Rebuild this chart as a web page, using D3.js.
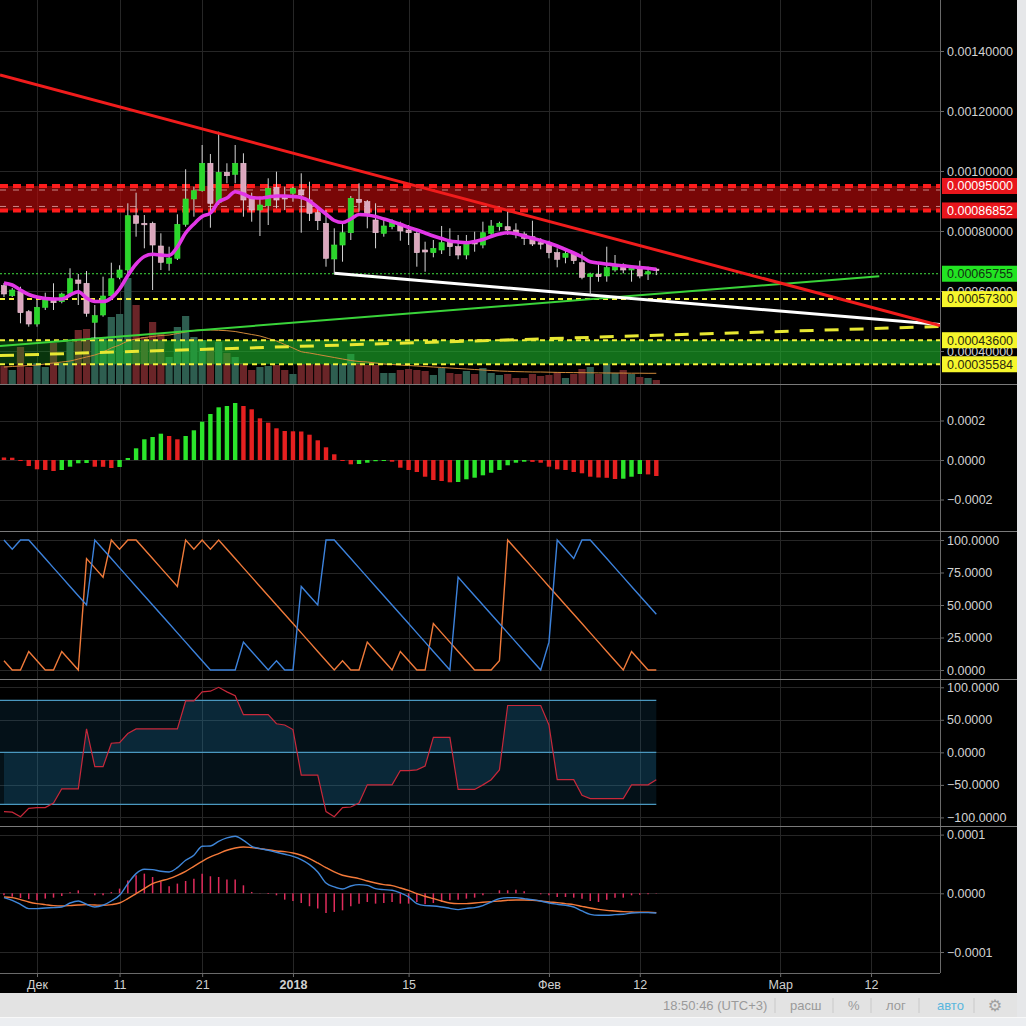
<!DOCTYPE html>
<html>
<head>
<meta charset="utf-8">
<script src="https://cdnjs.cloudflare.com/ajax/libs/d3/7.8.5/d3.min.js"></script>
<style>
  body { margin: 0; background: #000; }
  svg { display: block; font-family: "Liberation Sans", Arial, sans-serif; }
</style>
</head>
<body>
<div id="chart"></div>
<script>
// ---- data (daily bars, Nov 27 2017 .. Feb 14 2018) ----
// prices are in units of 1e-5
const open  = [61.77,58.43,59.77,53.1,49.0,54.57,57.57,56.43,59.23,63.67,62.57,49.57,52.0,58.43,64.57,67.0,85.1,82.57,82.57,75.0,69.23,70.9,82.23,90.67,93.43,102.57,89.43,99.57,98.9,102.57,90.9,87.0,88.43,94.57,91.23,92.57,93.67,90.33,86.1,82.57,70.67,75.33,79.43,90.57,89.77,83.67,79.23,81.43,82.0,80.33,79.23,73.67,72.77,73.67,76.43,74.77,72.0,76.67,75.33,79.23,81.43,81.43,80.33,79.0,78.1,76.1,75.67,72.77,71.23,72.57,69.43,64.77,65.57,65.0,67.0,68.67,67.0,67.9,65.67,67.3];
const high  = [62.67,61.0,61.43,53.67,57.0,59.43,62.57,59.43,67.57,65.67,66.67,55.33,64.77,69.43,68.57,89.23,92.77,85.33,83.1,79.23,74.77,85.57,100.57,94.77,108.67,105.67,113.1,102.57,108.67,105.9,92.77,91.43,97.57,99.77,94.77,94.77,99.23,96.43,87.57,87.0,80.9,82.57,91.67,95.9,90.33,89.23,83.67,83.9,83.1,82.0,80.33,76.43,77.0,81.67,80.9,78.67,78.67,79.77,83.1,83.67,83.1,87.23,82.57,79.77,83.43,77.57,76.77,74.23,73.67,73.1,73.1,66.1,68.9,74.77,72.0,69.23,68.67,70.1,68.1,67.6];
const low   = [58.0,58.0,49.23,48.1,48.1,53.67,53.67,55.9,58.1,55.33,51.43,44.23,51.43,57.0,63.9,64.77,78.1,74.23,60.33,67.0,66.77,70.33,81.43,84.77,93.1,81.1,88.67,95.9,95.9,84.77,83.1,78.33,82.0,87.57,87.0,89.77,79.43,83.33,80.33,68.1,65.9,69.77,77.0,86.43,80.9,74.23,78.1,80.57,76.77,75.33,68.1,66.43,71.23,72.33,71.67,70.57,70.57,73.1,74.23,78.33,80.1,78.67,77.57,75.33,75.0,73.9,70.9,67.9,69.23,69.0,63.9,58.67,63.1,63.1,66.43,65.9,63.1,64.23,63.67,65.3];
const close = [59.0,60.33,52.77,49.0,54.57,57.0,56.1,59.0,64.1,62.57,52.57,51.77,58.33,64.1,67.0,85.1,82.57,82.1,75.33,69.57,71.0,82.23,90.67,93.43,102.57,89.23,99.57,98.43,102.57,90.33,87.0,88.67,94.23,90.33,90.67,94.23,92.0,85.9,83.43,70.9,75.33,79.43,90.9,89.57,85.9,79.43,81.67,82.9,80.0,79.43,72.77,73.0,74.23,76.1,74.77,72.0,75.67,75.67,79.43,81.67,82.57,80.33,79.0,77.57,75.67,75.67,72.77,70.57,72.57,70.1,64.57,65.67,64.77,67.77,68.67,67.0,68.1,65.0,66.43,66.8];
const maLine = [62.67,62.0,60.33,58.83,58.0,57.5,57.33,57.33,58.67,59.77,57.67,56.5,56.5,57.67,60.67,65.17,69.0,71.5,72.23,72.0,71.83,74.67,79.33,82.33,84.83,86.0,89.67,91.0,93.1,92.33,91.17,91.0,91.33,91.67,91.67,91.5,91.17,90.0,87.83,85.67,83.5,82.83,84.0,85.5,85.33,84.83,84.0,83.17,82.23,81.17,80.33,79.33,78.33,77.5,76.67,76.33,76.1,76.5,77.17,78.17,79.0,79.43,79.07,78.33,77.6,76.83,76.0,75.0,73.83,72.67,71.33,69.77,69.33,69.0,68.67,68.4,68.1,67.83,67.57,67.23];
// volume in relative units
const volume = [18,14,37,17,21,17,41,21,42,54,55,47,47,67,70,106,79,47,62,51,27,57,68,47,44,37,42,31,27,21,14,17,18,19,14,10,20,20,20,20,20,20,30,21,19,19,11,11,14,15,14,13,9,16,11,10,13,10,16,11,9,10,6,6,10,8,9,12,6,10,15,17,10,20,11,14,10,7,6,4];
const volumeMa = [17,17.5,18,18.5,19,20,21,22,23,25,27,29,32,36,39,43,45,46.5,47.5,48.5,49,50.5,52,53.5,54,54,53.7,53.3,52.5,51,49.5,48,45.5,43,39.5,36,32.3,31,29.5,28,26.5,25,23.5,22.5,22,21,20,19.5,19,18.5,18,17.5,17,16.5,16,15.5,15,14.5,14,13.5,13,12.7,12.4,12.2,12,12,11.8,11.6,11.5,11.4,11.3,11.2,11.1,11,11,10.9,10.8,10.8,10.7,10.7];
// oscillator histogram, units of 1e-6
const osc = [12.7,11.6,-5.1,-30.4,-47.1,-50.6,-55.7,-50.6,-33.9,-16.7,-15.2,-33.9,-34.4,-40.5,-35.4,10.1,59.2,104.8,116.4,133.2,121.5,104.8,121.5,150.4,193.9,232.9,266.8,273.4,288.6,273.4,256.7,211.1,188.8,160.5,146.8,145.3,144.3,128.1,99.7,64.3,28.9,-2.5,-21.8,-20.3,-13.7,-6.1,-5.1,-8.6,-39.0,-50.6,-60.8,-84.6,-101.3,-106.3,-112.9,-111.4,-97.7,-89.6,-77.5,-64.3,-50.6,-26.8,-13.7,-8.6,-9.6,-13.7,-33.9,-47.1,-50.6,-60.8,-67.3,-84.6,-88.6,-90.1,-96.2,-94.7,-84.6,-70.9,-72.9,-81.0];
// Aroon
const aroonDown = [100,92.86,100,100,92.86,85.71,78.57,71.43,64.29,57.14,50,100,92.86,85.71,78.57,71.43,64.29,57.14,50,42.86,35.71,28.57,21.43,14.29,7.14,0,0,0,0,21.43,14.29,7.14,0,7.14,0,0,64.29,57.14,50,100,100,92.86,85.71,78.57,71.43,64.29,57.14,50,42.86,35.71,28.57,21.43,14.29,7.14,0,71.43,64.29,57.14,50,42.86,35.71,28.57,21.43,14.29,7.14,0,21.43,100,92.86,85.71,100,100,92.86,85.71,78.57,71.43,64.29,57.14,50,42.86];
const aroonUp = [7.14,0,0,14.29,7.14,0,0,14.29,7.14,0,85.71,78.57,71.43,100,92.86,100,100,92.86,85.71,78.57,71.43,64.29,100,92.86,100,92.86,100,92.86,85.71,78.57,71.43,64.29,57.14,50,42.86,35.71,28.57,21.43,14.29,7.14,0,7.14,0,0,21.43,14.29,7.14,0,14.29,7.14,0,0,35.71,28.57,21.43,14.29,7.14,0,0,0,7.14,100,92.86,85.71,78.57,71.43,64.29,57.14,50,42.86,35.71,28.57,21.43,14.29,7.14,0,14.29,7.14,0,0];
// CCI-like oscillator
const cci = [-91,-92,-99,-86,-85,-85,-78,-56,-56,-56,36,-22,-22,14,15,29,36,36,36,36,36,36,79,79,93,94,100,93,87,58,58,58,58,44,42,35,-35,-35,-35,-91,-99,-85,-84,-78,-50,-50,-50,-50,-28,-28,-27,-21,23,23,23,-57,-57,-57,-50,-42,-27,72,72,72,72,72,42,-42,-42,-42,-66,-71,-71,-71,-71,-71,-50,-50,-50,-42];
const cciBands = [80, 0, -80];
// MACD, units of 1e-6
const macd = [-7.4,-11.9,-18.7,-26.1,-26.1,-25.0,-24.4,-23.3,-16.5,-13.1,-18.7,-23.3,-20.4,-13.1,-3.4,16.5,33.5,40.9,40.3,37.5,36.4,43.7,56.2,64.8,80.1,80.7,88.6,94.3,97.1,90.3,80.1,76.1,73.3,69.9,66.5,63.0,57.4,48.8,36.4,17.6,10.8,7.4,12.5,14.8,13.6,8.0,6.2,5.1,0.6,-6.2,-17.6,-21.0,-21.6,-23.3,-25.6,-27.8,-25.6,-24.4,-21.0,-14.8,-9.1,-7.4,-7.4,-9.1,-10.8,-13.1,-16.5,-18.7,-20.4,-23.3,-30.1,-35.8,-37.5,-37.5,-36.4,-35.8,-33.5,-32.9,-32.9,-33.5];
const signal = [-6.2,-7.4,-10.8,-14.8,-17.6,-19.3,-21.0,-21.6,-21.0,-19.9,-19.3,-19.9,-20.4,-19.3,-16.5,-9.1,-0.6,8.0,16.5,21.0,25.0,30.7,37.5,46.0,54.5,61.9,67.6,73.3,77.2,79.0,77.8,76.1,74.4,72.1,71.0,68.7,64.8,59.1,51.7,43.7,36.4,30.7,27.8,25.0,21.0,17.6,14.8,13.1,9.1,5.1,-0.6,-5.1,-9.1,-13.1,-16.5,-17.6,-17.6,-16.5,-15.3,-14.2,-13.1,-11.9,-11.4,-11.4,-11.9,-13.1,-14.8,-15.9,-17.6,-19.3,-22.2,-25.0,-27.3,-29.0,-30.1,-31.2,-31.8,-32.4,-32.4,-32.9];
const macdHist = [-3.4,-6,-8,-10,-12,-9,-7.4,-4.5,2,5,0,-3.4,-3.4,2,8,22,30.7,33.5,27.8,19.3,12,16.5,21,25,33.5,29,27.8,23.3,23.3,13.6,2.3,0.6,-1.1,-3.4,-10.8,-13,-16.5,-22,-26,-33.5,-31.8,-29,-22,-17.6,-14.8,-17.6,-16.5,-14.8,-17.6,-17.6,-14.8,-18.7,-16.5,-14.8,-11.9,-10.8,-9.1,-7.4,-3.4,0.6,5.1,5.1,6.2,3.4,0,-1.7,-3.4,-6.2,-6.2,-7.4,-9.1,-13.1,-14.8,-10.8,-7.4,-7.4,-3.4,-2.3,-1.7,-0.6];

// drawings on the price pane
const redZone = [0.00095, 0.00086852];
const greenZone = [0.000436, 0.00035584];
const yellowLevel = 0.000573;
const lastPrice = 0.00065755;
const redTrend = [[Date.UTC(2017, 11, 23), 0.0011257], [Date.UTC(2018, 2, 1), 0.0006267]];
const whiteTrend = [[Date.UTC(2018, 0, 6), 0.000659], [Date.UTC(2018, 1, 6), 0.0005867]];
const greenTrend = [[Date.UTC(2017, 10, 27), 0.0004177], [Date.UTC(2018, 2, 13), 0.0006493]];
const yellowTrend = [[Date.UTC(2017, 10, 27), 0.000385], [Date.UTC(2018, 2, 20), 0.0004813]];
const greenZoneBrightFrom = Date.UTC(2017, 11, 8);

// axis ticks
const timeTicks = [Date.UTC(2017,11,1), Date.UTC(2017,11,11), Date.UTC(2017,11,21), Date.UTC(2018,0,1), Date.UTC(2018,0,15), Date.UTC(2018,1,1), Date.UTC(2018,1,12), Date.UTC(2018,2,1), Date.UTC(2018,2,12)];
const timeLabels = ["Дек", "11", "21", "2018", "15", "Фев", "12", "Мар", "12"];
const priceTicks = [0.0014, 0.0012, 0.001, 0.0008, 0.0006, 0.0004];
const oscTicks = [0.0002, 0, -0.0002];
const aroonTicks = [100, 75, 50, 25, 0];
const cciTicks = [100, 50, 0, -50, -100];
const macdTicks = [0.0001, 0, -0.0001];
const toolbarItems = ["расш", "%", "лог", "авто"];

// ---- layout ----
const W = 1026, H = 1026, plotW = 940, axisBottom = 973;
const panes = [
  {top: 0, bottom: 384},
  {top: 384, bottom: 531},
  {top: 531, bottom: 679},
  {top: 679, bottom: 826},
  {top: 826, bottom: 973}
];

const days = d3.utcDay.range(new Date(Date.UTC(2017, 10, 27)), new Date(Date.UTC(2018, 1, 15)));
const bars = days.map((d, i) => ({
  date: d, o: open[i] * 1e-5, h: high[i] * 1e-5, l: low[i] * 1e-5, c: close[i] * 1e-5,
  ma: maLine[i] * 1e-5, v: volume[i], vma: volumeMa[i], osc: osc[i] * 1e-6,
  up: aroonUp[i], down: aroonDown[i], cci: cci[i],
  macd: macd[i] * 1e-6, sig: signal[i] * 1e-6, hist: macdHist[i] * 1e-6
}));

const x = d3.scaleUtc()
  .domain([new Date(Date.UTC(2017, 11, 1)), new Date(Date.UTC(2018, 2, 12))])
  .range([37, 871]);
const yMain = d3.scaleLinear().domain([0.0004, 0.0008]).range([351, 231]);
const yVol = d3.scaleLinear().domain([0, 100]).range([384, 284]);
const yOsc = d3.scaleLinear().domain([-0.0002, 0.0002]).range([499.5, 420.5]);
const yAroon = d3.scaleLinear().domain([0, 100]).range([670, 540]);
const yCci = d3.scaleLinear().domain([-100, 100]).range([817.4, 687.3]);
const yMacd = d3.scaleLinear().domain([-0.0001, 0.0001]).range([952, 834.6]);

const svg = d3.select("#chart").append("svg")
  .attr("width", W).attr("height", H);

svg.append("rect").attr("width", W).attr("height", H).attr("fill", "#000");

const defs = svg.append("defs");
panes.forEach((p, i) => {
  defs.append("clipPath").attr("id", "clip" + i)
    .append("rect").attr("x", 0).attr("y", p.top).attr("width", plotW).attr("height", p.bottom - p.top);
});

//grid
const grid = svg.append("g").attr("stroke", "#262626").attr("stroke-width", 1);
grid.selectAll(".vgrid").data(timeTicks).join("line")
  .attr("x1", d => Math.round(x(d)) + 0.5).attr("x2", d => Math.round(x(d)) + 0.5)
  .attr("y1", 0).attr("y2", axisBottom);
[[yMain, priceTicks], [yOsc, oscTicks], [yAroon, aroonTicks], [yCci, cciTicks], [yMacd, macdTicks]]
  .forEach(([s, ticks]) => {
    grid.append("g").selectAll("line").data(ticks).join("line")
      .attr("x1", 0).attr("x2", plotW)
      .attr("y1", d => Math.round(s(d)) + 0.5).attr("y2", d => Math.round(s(d)) + 0.5);
  });

// ---------- price pane ----------
const main = svg.append("g").attr("clip-path", "url(#clip0)");

//red resistance zone
main.append("rect")
  .attr("x", 0).attr("width", plotW)
  .attr("y", yMain(redZone[0])).attr("height", yMain(redZone[1]) - yMain(redZone[0]))
  .attr("fill", "#b80a0a").attr("opacity", 0.66);

//volume
main.append("g").selectAll("rect").data(bars).join("rect")
  .attr("x", d => x(d.date) - 3.6).attr("width", 7.2)
  .attr("y", d => yVol(d.v)).attr("height", d => yVol(0) - yVol(d.v))
  .attr("fill", d => d.c >= d.o ? "#2e5e50" : "#6a2528");

//green support zone
main.append("rect")
  .attr("x", 0).attr("width", plotW)
  .attr("y", yMain(greenZone[0])).attr("height", yMain(greenZone[1]) - yMain(greenZone[0]))
  .attr("fill", "#1fb02c").attr("opacity", 0.3);
main.append("rect")
  .attr("x", x(greenZoneBrightFrom)).attr("width", plotW - x(greenZoneBrightFrom))
  .attr("y", yMain(greenZone[0])).attr("height", yMain(greenZone[1]) - yMain(greenZone[0]))
  .attr("fill", "#22c030").attr("opacity", 0.42);

main.append("path")
  .datum(bars)
  .attr("d", d3.line().x(d => x(d.date)).y(d => yVol(d.vma)).curve(d3.curveMonotoneX))
  .attr("fill", "none").attr("stroke", "#d08a3a").attr("stroke-width", 1);

//zone borders
redZone.forEach((v, i) => {
  const yy = yMain(v);
  main.append("line").attr("x1", 0).attr("x2", plotW).attr("y1", yy).attr("y2", yy)
    .attr("stroke", "#ff1c1c").attr("stroke-width", 4).attr("stroke-dasharray", "8 5");
  main.append("line").attr("x1", 0).attr("x2", plotW)
    .attr("y1", yy + (i === 0 ? 4 : -4)).attr("y2", yy + (i === 0 ? 4 : -4))
    .attr("stroke", "#f0c0c0").attr("stroke-width", 1).attr("stroke-dasharray", "6 7").attr("opacity", 0.7);
});
[yellowLevel, ...greenZone].forEach(v => {
  main.append("line").attr("x1", 0).attr("x2", plotW).attr("y1", yMain(v)).attr("y2", yMain(v))
    .attr("stroke", "#f2f23a").attr("stroke-width", 2).attr("stroke-dasharray", "5 4");
});
main.append("line").attr("x1", 0).attr("x2", plotW).attr("y1", yMain(lastPrice)).attr("y2", yMain(lastPrice))
  .attr("stroke", "#40e040").attr("stroke-width", 1).attr("stroke-dasharray", "2 2");

//trend lines, extended through their two anchors
function extend(pts, from, to) {
  const x1 = x(pts[0][0]), y1 = yMain(pts[0][1]);
  const x2 = x(pts[1][0]), y2 = yMain(pts[1][1]);
  const k = (y2 - y1) / (x2 - x1);
  const xa = from === null ? x1 : from, xb = to === null ? x2 : to;
  return [[xa, y1 + k * (xa - x1)], [xb, y1 + k * (xb - x1)]];
}
const seg = d3.line();
main.append("path").attr("d", seg(extend(greenTrend, 0, null)))
  .attr("stroke", "#3ad43a").attr("stroke-width", 2).attr("fill", "none");
main.append("path").attr("d", seg(extend(yellowTrend, 0, plotW)))
  .attr("stroke", "#e8e832").attr("stroke-width", 3).attr("stroke-dasharray", "14 11").attr("fill", "none");
main.append("path").attr("d", seg(extend(whiteTrend, null, plotW)))
  .attr("stroke", "#ffffff").attr("stroke-width", 3).attr("fill", "none");

//candles
const candle = main.append("g").selectAll("g").data(bars).join("g");
candle.append("line")
  .attr("x1", d => x(d.date)).attr("x2", d => x(d.date))
  .attr("y1", d => yMain(d.h)).attr("y2", d => yMain(d.l))
  .attr("stroke", "#d4d4d4").attr("stroke-width", 1);
candle.append("rect")
  .attr("x", d => x(d.date) - 2.6).attr("width", 5.2)
  .attr("y", d => yMain(Math.max(d.o, d.c)))
  .attr("height", d => Math.max(1.5, Math.abs(yMain(d.o) - yMain(d.c))))
  .attr("fill", d => d.c >= d.o ? "#2bd62b" : "#dba7bd")
  .attr("stroke", d => d.c >= d.o ? "#3ae83a" : "#eec6d6").attr("stroke-width", 0.6);

main.append("path").attr("d", seg(extend(redTrend, 0, plotW)))
  .attr("stroke", "#f01c1c").attr("stroke-width", 3).attr("fill", "none");

main.append("path")
  .datum(bars)
  .attr("d", d3.line().x(d => x(d.date)).y(d => yMain(d.ma)).curve(d3.curveMonotoneX))
  .attr("fill", "none").attr("stroke", "#e236e6").attr("stroke-width", 3.6);

// ---------- oscillator histogram ----------
const p1 = svg.append("g").attr("clip-path", "url(#clip1)");
p1.selectAll("rect").data(bars).join("rect")
  .attr("x", d => x(d.date) - 2.2).attr("width", 4.4)
  .attr("y", d => Math.min(yOsc(0), yOsc(d.osc)))
  .attr("height", d => Math.max(1, Math.abs(yOsc(d.osc) - yOsc(0))))
  .attr("fill", (d, i) => i > 0 && d.osc >= bars[i - 1].osc ? "#2be52b" : "#e62020");

// ---------- Aroon ----------
const p2 = svg.append("g").attr("clip-path", "url(#clip2)");
p2.append("path").datum(bars)
  .attr("d", d3.line().x(d => x(d.date)).y(d => yAroon(d.up)))
  .attr("fill", "none").attr("stroke", "#f07a3a").attr("stroke-width", 1.4);
p2.append("path").datum(bars)
  .attr("d", d3.line().x(d => x(d.date)).y(d => yAroon(d.down)))
  .attr("fill", "none").attr("stroke", "#3c82dc").attr("stroke-width", 1.4);

// ---------- CCI ----------
const p3 = svg.append("g").attr("clip-path", "url(#clip3)");
const lastX = x(bars[bars.length - 1].date);
defs.append("clipPath").attr("id", "bandClip").append("rect")
  .attr("x", 0).attr("width", lastX)
  .attr("y", yCci(cciBands[0])).attr("height", yCci(cciBands[2]) - yCci(cciBands[0]));
p3.append("rect").attr("x", 0).attr("width", lastX)
  .attr("y", yCci(cciBands[0])).attr("height", yCci(cciBands[2]) - yCci(cciBands[0]))
  .attr("fill", "#1e78aa").attr("opacity", 0.14);
p3.append("path").datum(bars).attr("clip-path", "url(#bandClip)")
  .attr("d", d3.area().x(d => x(d.date)).y0(yCci(0)).y1(d => yCci(d.cci)))
  .attr("fill", "#2486b8").attr("opacity", 0.2);
p3.selectAll(".band").data(cciBands).join("line")
  .attr("x1", 0).attr("x2", lastX)
  .attr("y1", d => yCci(d)).attr("y2", d => yCci(d))
  .attr("stroke", "#4a98bf").attr("stroke-width", 1.2);
p3.append("path").datum(bars)
  .attr("d", d3.line().x(d => x(d.date)).y(d => yCci(d.cci)))
  .attr("fill", "none").attr("stroke", "#c8283a").attr("stroke-width", 1.2);

// ---------- MACD ----------
const p4 = svg.append("g").attr("clip-path", "url(#clip4)");
p4.selectAll("line").data(bars).join("line")
  .attr("x1", d => x(d.date)).attr("x2", d => x(d.date))
  .attr("y1", yMacd(0)).attr("y2", d => yMacd(d.hist))
  .attr("stroke", "#e02c5c").attr("stroke-width", 1.5);
p4.append("path").datum(bars)
  .attr("d", d3.line().x(d => x(d.date)).y(d => yMacd(d.sig)).curve(d3.curveMonotoneX))
  .attr("fill", "none").attr("stroke", "#f47a3a").attr("stroke-width", 1.4);
p4.append("path").datum(bars)
  .attr("d", d3.line().x(d => x(d.date)).y(d => yMacd(d.macd)).curve(d3.curveMonotoneX))
  .attr("fill", "none").attr("stroke", "#3f86d8").attr("stroke-width", 1.4);

// ---------- frame & axes ----------
const frame = svg.append("g").attr("stroke", "#6a6a6a").attr("stroke-width", 1);
frame.append("line").attr("x1", plotW + 0.5).attr("x2", plotW + 0.5).attr("y1", 0).attr("y2", axisBottom);
frame.append("line").attr("x1", 0).attr("x2", plotW).attr("y1", axisBottom + 0.5).attr("y2", axisBottom + 0.5);
frame.selectAll(".sep").data(panes.slice(1)).join("line")
  .attr("x1", 0).attr("x2", 1017)
  .attr("y1", d => d.top + 0.5).attr("y2", d => d.top + 0.5)
  .attr("stroke", "#7a7a7a");

function rightAxis(scale, ticks, fmt) {
  const g = svg.append("g").attr("transform", `translate(${plotW},0)`)
    .call(d3.axisRight(scale).tickValues(ticks).tickFormat(d3.format(fmt)).tickSize(4).tickPadding(3));
  g.select(".domain").remove();
  g.selectAll(".tick line").attr("stroke", "#6a6a6a");
  g.selectAll(".tick text").attr("fill", "#d2d2d2").style("font-size", "12.5px")
    .style("font-family", '"Liberation Sans", Arial, sans-serif');
  return g;
}
rightAxis(yMain, priceTicks, ".8f");
rightAxis(yOsc, oscTicks, ".4f");
rightAxis(yAroon, aroonTicks, ".4f");
rightAxis(yCci, cciTicks, ".4f");
rightAxis(yMacd, macdTicks, ".4f");

//price badges (drawn over the axis, partly hiding 0.0006 / 0.0004 as on the screen)
const badges = [
  {v: redZone[0], fill: "#e8161c", color: "#ffffff"},
  {v: redZone[1], fill: "#e8161c", color: "#ffffff"},
  {v: lastPrice, fill: "#22e422", color: "#123012"},
  {v: yellowLevel, fill: "#f6f62c", color: "#2a2a10"},
  {v: greenZone[0], fill: "#f6f62c", color: "#2a2a10"},
  {v: greenZone[1], fill: "#f6f62c", color: "#2a2a10"}
];
const badge = svg.append("g").selectAll("g").data(badges).join("g")
  .attr("transform", d => `translate(942,${yMain(d.v)})`);
badge.append("rect").attr("x", 0).attr("y", -8).attr("width", 75).attr("height", 16).attr("fill", d => d.fill);
badge.append("text").attr("x", 5).attr("dy", "0.35em")
  .attr("fill", d => d.color).style("font-size", "12.5px")
  .text(d => d3.format(".8f")(d.v));

//time axis
const tAxis = svg.append("g").attr("transform", `translate(0,${axisBottom})`)
  .call(d3.axisBottom(x).tickValues(timeTicks).tickFormat((d, i) => timeLabels[i]).tickSize(4).tickPadding(3));
tAxis.select(".domain").remove();
tAxis.selectAll(".tick line").attr("stroke", "#6a6a6a");
tAxis.selectAll(".tick text").attr("fill", "#d0d0d0").style("font-size", "12.5px")
  .style("font-family", '"Liberation Sans", Arial, sans-serif')
  .style("font-weight", (d, i) => timeLabels[i] === "2018" ? "bold" : "normal");

// ---------- toolbar ----------
svg.append("rect").attr("x", 1017).attr("y", 0).attr("width", 9).attr("height", H).attr("fill", "#e6e7e9");
svg.append("rect").attr("x", 0).attr("y", 993).attr("width", 1017).attr("height", 24).attr("fill", "#e3e3e3");
svg.append("rect").attr("x", 0).attr("y", 1017).attr("width", W).attr("height", 9).attr("fill", "#eceef1");
svg.append("line").attr("x1", 0).attr("x2", W).attr("y1", 1017.5).attr("y2", 1017.5).attr("stroke", "#f8f8f8");

const tb = svg.append("g").style("font-size", "13px").attr("fill", "#9a9a9a");
tb.append("text").attr("x", 663).attr("y", 1010).text("18:50:46 (UTC+3)");
const itemX = [790, 848, 886, 937];
toolbarItems.forEach((t, i) => {
  tb.append("text").attr("x", itemX[i]).attr("y", 1010)
    .attr("fill", t === "авто" ? "#5ab6de" : "#9a9a9a").text(t);
});
[775, 833, 871, 919, 974].forEach(sx => {
  tb.append("line").attr("x1", sx).attr("x2", sx).attr("y1", 998).attr("y2", 1013).attr("stroke", "#c9c9c9");
});
tb.append("text").attr("x", 995).attr("y", 1011).attr("text-anchor", "middle")
  .style("font-family", '"DejaVu Sans", sans-serif').style("font-size", "16px").attr("fill", "#a0a0a0").text("⚙");
</script>
</body>
</html>
